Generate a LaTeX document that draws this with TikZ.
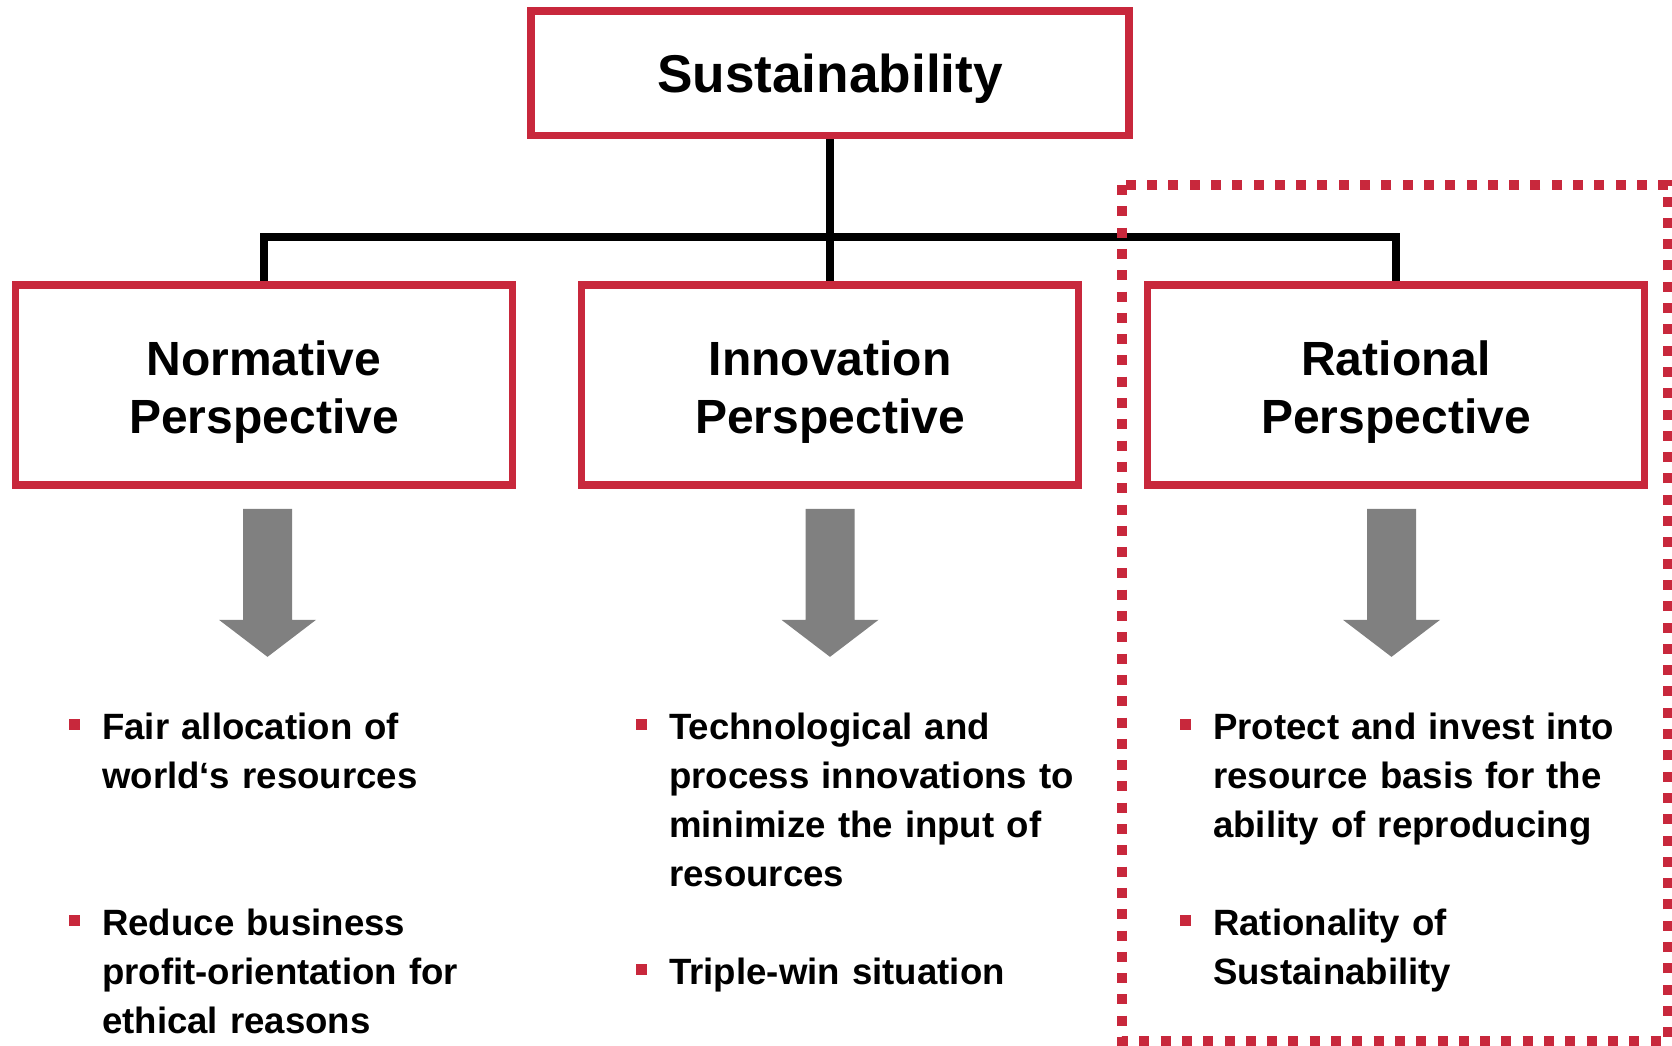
\documentclass[tikz,border=0pt]{standalone}
\usepackage{fontspec}
\setmainfont{Liberation Sans}
\usepackage{tikz}
\usetikzlibrary{calc,positioning}

\definecolor{unired}{RGB}{200,40,60}
\definecolor{arrowgray}{RGB}{128,128,128}
\newcommand{\headstrut}{\rule{0pt}{48pt}}

\tikzset{
  topbox/.style={draw=unired, line width=7.7pt, minimum width=598pt, minimum height=124.5pt,
                 inner sep=0pt, text depth=0pt, font=\bfseries\fontsize{53.2}{64}\selectfont},
  perspbox/.style={draw=unired, line width=7.7pt, minimum width=497pt, minimum height=200pt,
                   inner sep=0pt, align=center, font=\bfseries\fontsize{48}{58}\selectfont},
  link/.style={line width=7.7pt, black},
  itemtext/.style={anchor=base west, inner sep=0pt, text width=450pt, align=left,
                   font=\bfseries\fontsize{36.6}{49}\selectfont},
  bulletmark/.style={fill=unired, minimum size=11pt, inner sep=0pt},
  dotframe/.style={draw=unired, line width=10pt, dash pattern=on 10pt off 11.3pt},
}

\begin{document}
\begin{tikzpicture}[x=1pt, y=-1pt]
    \useasboundingbox (0,0) rectangle (1672,1046);

    % headline and the three perspectives
    \node[topbox] (sus) at (830,73.25) {Sustainability};
    \node[perspbox] (norm) at (264,385) {\headstrut Normative\\Perspective};
    \node[perspbox] (inno) at (830,385) {\headstrut Innovation\\Perspective};
    \node[perspbox] (rat) at (1396,385) {\headstrut Rational\\Perspective};

    % tree connectors
    \coordinate (bar) at (830,237);
    \draw[link] (sus.south) -- (inno.north);
    \draw[link] (norm.north) |- (bar) -| (rat.north);

    % block arrows under each box
    \foreach \p/\dx in {norm/3.5,inno/0,rat/-4.5}
      \fill[arrowgray] ($(\p.south)+(\dx-24.5,20)$) -- ++(49,0) -- ++(0,111)
            -- ++(24,0) -- ++(-48.5,37) -- ++(-48.5,-37) -- ++(24,0) -- cycle;

    % bullet points
    \node[itemtext] (n1) at (102,739) {Fair allocation of\\world`s resources};
    \node[itemtext] (n2) at (102,935) {Reduce business\\profit-orientation for\\ethical reasons};
    \node[itemtext] (i1) at (669,739) {Technological and\\process innovations to\\minimize the input of\\resources};
    \node[itemtext] (i2) at (669,984) {Triple-win situation};
    \node[itemtext] (r1) at (1213,739) {Protect and invest into\\resource basis for the\\ability of reproducing};
    \node[itemtext] (r2) at (1213,935) {Rationality of\\Sustainability};
    \foreach \t in {n1,n2,i1,i2,r1,r2}
      \node[bulletmark] (b-\t) at ($(\t.base west)+(-27.5,-15)$) {};

    % dotted frame round the rational column
    \draw[dotframe] (1122,185) rectangle (1668,1041);
\end{tikzpicture}
\end{document}
